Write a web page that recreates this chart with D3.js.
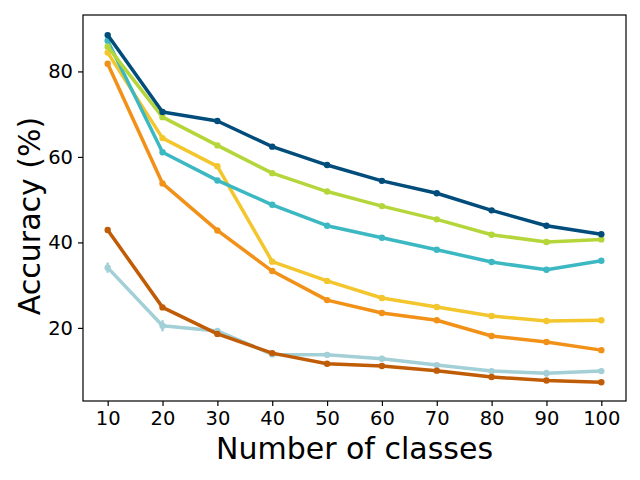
<!DOCTYPE html>
<html>
<head>
<meta charset="utf-8">
<script src="https://cdn.jsdelivr.net/npm/d3@7/dist/d3.min.js"></script>
<style>
  html, body { margin: 0; padding: 0; background: #fff; }
  svg { display: block; font-family: "DejaVu Sans", sans-serif; }
</style>
</head>
<body>
<svg id="chart" width="640" height="480"></svg>
<script>
// ---- data ----
const classes = [10, 20, 30, 40, 50, 60, 70, 80, 90, 100];
const yTicks = [20, 40, 60, 80];

const seriesLightBlue  = [34.1, 20.5, 19.3, 13.8, 13.7, 12.8, 11.3, 9.9, 9.4, 9.9];
const errLightBlue     = [1.2, 1.3, 0.5, 0.5, 0.6, 0.4, 0.5, 0.4, 0.8, 0.4];
const seriesDarkOrange = [42.9, 24.8, 18.6, 14.1, 11.6, 11.1, 10.0, 8.5, 7.7, 7.3];
const seriesOrange     = [81.8, 53.8, 42.8, 33.3, 26.5, 23.5, 21.8, 18.1, 16.7, 14.8];
const seriesYellow     = [84.4, 64.4, 57.8, 35.5, 31.0, 27.0, 24.9, 22.8, 21.6, 21.8];
const seriesTeal       = [87.2, 61.1, 54.5, 48.8, 43.9, 41.1, 38.3, 35.4, 33.6, 35.7];
const seriesLime       = [85.8, 69.3, 62.7, 56.2, 51.9, 48.5, 45.4, 41.8, 40.1, 40.7];
const seriesDarkBlue   = [88.5, 70.5, 68.4, 62.4, 58.1, 54.4, 51.5, 47.5, 43.9, 41.9];

const series = [
  { values: seriesLightBlue,  err: errLightBlue, color: "#a3cfd6" },
  { values: seriesDarkOrange, err: null, color: "#c05c06" },
  { values: seriesOrange,     err: null, color: "#f29118" },
  { values: seriesYellow,     err: null, color: "#f2c62c" },
  { values: seriesTeal,       err: null, color: "#3cb8c3" },
  { values: seriesLime,       err: null, color: "#b5d63a" },
  { values: seriesDarkBlue,   err: null, color: "#004c7b" }
];

// ---- layout ----
const L = 83, R = 626, T = 15, B = 401;
const svg = d3.select("#chart");

const x = d3.scaleLinear().domain([5.5, 104.5]).range([L, R]);
const y = d3.scaleLinear().domain([2.9, 93.2]).range([B, T]);

const line = d3.line().x((d, i) => x(classes[i])).y(d => y(d));

const g = svg.append("g");
series.forEach(s => {
  g.append("path")
    .datum(s.values)
    .attr("fill", "none")
    .attr("stroke", s.color)
    .attr("stroke-width", 3.5)
    .attr("stroke-linejoin", "round")
    .attr("d", line);
  if (s.err) {
    g.selectAll(null).data(s.values).enter().append("line")
      .attr("x1", (d, i) => x(classes[i])).attr("x2", (d, i) => x(classes[i]))
      .attr("y1", (d, i) => y(d - s.err[i])).attr("y2", (d, i) => y(d + s.err[i]))
      .attr("stroke", s.color).attr("stroke-width", 2.5);
  }
  g.selectAll(null).data(s.values).enter().append("circle")
    .attr("cx", (d, i) => x(classes[i]))
    .attr("cy", d => y(d))
    .attr("r", 3.2)
    .attr("fill", s.color);
});

// frame
svg.append("rect")
  .attr("x", L).attr("y", T).attr("width", R - L).attr("height", B - T)
  .attr("fill", "none").attr("stroke", "#000").attr("stroke-width", 1.2);

// axes
const xAxis = svg.append("g").attr("transform", `translate(0,${B})`)
  .call(d3.axisBottom(x).tickValues(classes).tickSize(5).tickPadding(5));
const yAxis = svg.append("g").attr("transform", `translate(${L},0)`)
  .call(d3.axisLeft(y).tickValues(yTicks).tickSize(5).tickPadding(5));
[xAxis, yAxis].forEach(a => {
  a.select(".domain").remove();
  a.selectAll(".tick line").attr("stroke", "#000").attr("stroke-width", 1.2);
  a.selectAll(".tick text").attr("fill", "#000")
    .style("font-family", "DejaVu Sans").style("font-size", "19.5px");
});

// labels
svg.append("text")
  .attr("x", (L + R) / 2).attr("y", 459)
  .attr("text-anchor", "middle")
  .style("font-size", "30px").attr("fill", "#000")
  .text("Number of classes");

svg.append("text")
  .attr("transform", `translate(40,${(T + B) / 2 + 8}) rotate(-90)`)
  .attr("text-anchor", "middle")
  .style("font-size", "30px").attr("fill", "#000")
  .text("Accuracy (%)");
</script>
</body>
</html>
